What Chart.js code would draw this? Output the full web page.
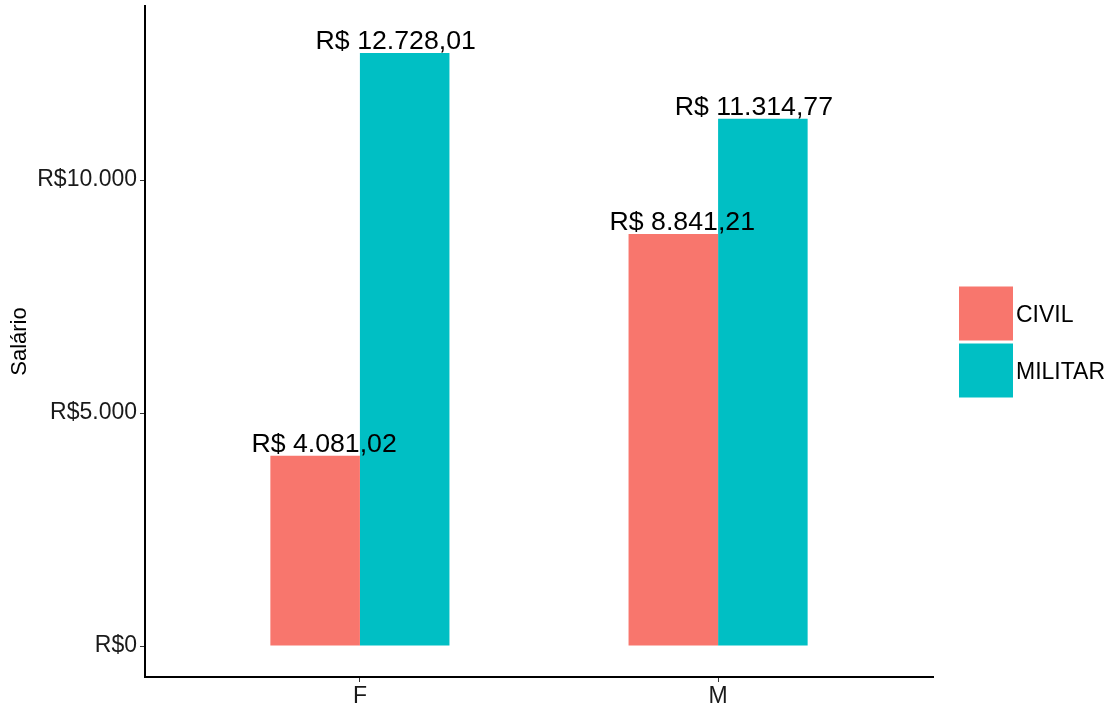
<!DOCTYPE html>
<html>
<head>
<meta charset="utf-8">
<script src="https://cdn.jsdelivr.net/npm/chart.js@4/dist/chart.umd.min.js"></script>
<style>
  html, body { margin: 0; padding: 0; background: #fff; }
  #wrap { width: 1114px; height: 711px; }
</style>
</head>
<body>
<div id="wrap"><canvas id="chart" width="1114" height="711"></canvas></div>
<script>
// Daten
const categories = ["F", "M"];
const seriesNames = ["CIVIL", "MILITAR"];
const civil = [4081.02, 8841.21];
const militar = [12728.01, 11314.77];
const yTicks = [0, 5000, 10000];
const colors = ["#F8766D", "#00BFC4"];
const FONT = "'Liberation Sans', Arial, sans-serif";

const fmtTick = v => "R$" + v.toLocaleString("de-DE");
const fmtLabel = v => "R$ " + v.toLocaleString("de-DE", { minimumFractionDigits: 2, maximumFractionDigits: 2 });

// Beschriftung über den Balken (schmalerer Dodge als die Balken)
const barLabels = {
  id: "barLabels",
  afterDatasetsDraw(chart) {
    const ctx = chart.ctx;
    const xs = chart.scales.x;
    ctx.save();
    ctx.font = "26.7px " + FONT;
    ctx.fillStyle = "#000";
    ctx.textAlign = "center";
    ctx.textBaseline = "alphabetic";
    chart.data.datasets.forEach((ds, i) => {
      const shift = i === 0 ? -0.1 : 0.1;
      chart.getDatasetMeta(i).data.forEach((bar, j) => {
        const px = xs.getPixelForValue(ds.data[j].x + shift);
        ctx.fillText(fmtLabel(ds.data[j].y), px, bar.y - 4);
      });
    });
    ctx.restore();
  }
};

// Legende rechts, ggplot-Stil
const sideLegend = {
  id: "sideLegend",
  afterDraw(chart) {
    const ctx = chart.ctx;
    const area = chart.chartArea;
    const key = 54;
    const x0 = area.right + 26;
    const yMid = (area.top + area.bottom) / 2;
    const y0 = yMid - key - 1;
    ctx.save();
    ctx.font = "23px " + FONT;
    ctx.textBaseline = "middle";
    chart.data.datasets.forEach((ds, i) => {
      const y = y0 + i * (key + 3);
      ctx.fillStyle = ds.backgroundColor;
      ctx.fillRect(x0, y, key, key);
      ctx.fillStyle = "#000";
      ctx.fillText(ds.label, x0 + key + 3, y + key / 2 + 2);
    });
    ctx.restore();
  }
};

const datasets = [civil, militar].map((vals, i) => ({
  label: seriesNames[i],
  data: vals.map((v, j) => ({ x: j + 1, y: v })),
  backgroundColor: colors[i],
  borderWidth: 0,
  categoryPercentage: 0.5,
  barPercentage: 1.0
}));

new Chart(document.getElementById("chart"), {
  type: "bar",
  data: { datasets },
  plugins: [barLabels, sideLegend],
  options: {
    responsive: false,
    animation: false,
    layout: { padding: { top: 6, right: 181, left: 0, bottom: 0 } },
    plugins: {
      legend: { display: false },
      tooltip: { enabled: false }
    },
    scales: {
      x: {
        type: "linear",
        min: 0.4,
        max: 2.6,
        offset: false,
        afterBuildTicks: s => { s.ticks = categories.map((c, i) => ({ value: i + 1 })); },
        afterFit: s => { s.height = 34; s.paddingLeft = 0; s.paddingRight = 0; },
        ticks: {
          callback: v => categories[Math.round(v) - 1] || "",
          font: { family: FONT, size: 23 },
          color: "#1a1a1a",
          padding: 1,
          maxRotation: 0
        },
        grid: { offset: false, drawOnChartArea: false, tickLength: 5, color: "#333", lineWidth: 1 },
        border: { display: true, color: "#000", width: 2 }
      },
      y: {
        min: -665,
        max: 13734,
        afterBuildTicks: s => { s.ticks = yTicks.map(v => ({ value: v })); },
        afterFit: s => { s.width = 145; s.paddingTop = 0; s.paddingBottom = 0; },
        ticks: {
          callback: v => fmtTick(v),
          font: { family: FONT, size: 23 },
          color: "#1a1a1a",
          padding: 3
        },
        grid: { drawOnChartArea: false, tickLength: 5, color: "#333", lineWidth: 1 },
        border: { display: true, color: "#000", width: 2 },
        title: {
          display: true,
          text: "Salário",
          font: { family: FONT, size: 22 },
          color: "#000",
          padding: { top: 7, bottom: 0 }
        }
      }
    }
  }
});
</script>
</body>
</html>
